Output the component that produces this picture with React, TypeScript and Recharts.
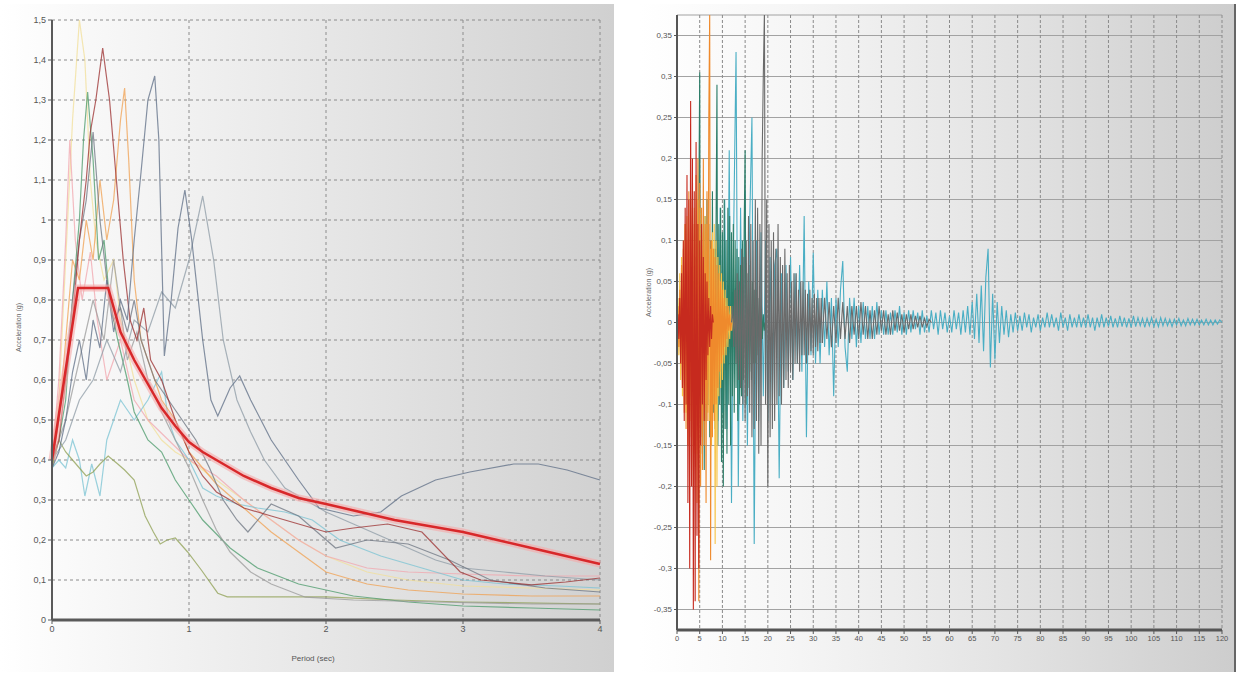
import React from "react";
import {
  LineChart,
  Line,
  XAxis,
  YAxis,
  CartesianGrid,
} from "recharts";

// ---------- left panel: response spectra, period (sec) vs acceleration (g) ----------
const PERIOD_TICKS = [0, 1, 2, 3, 4];
const SPECTRUM_TICKS = [0, 0.1, 0.2, 0.3, 0.4, 0.5, 0.6, 0.7, 0.8, 0.9, 1, 1.1, 1.2, 1.3, 1.4, 1.5];

const TARGET = [
  [0, 0.4], [0.19, 0.83], [0.41, 0.83], [0.5, 0.72], [0.6, 0.65], [0.7, 0.59], [0.8, 0.53],
  [0.9, 0.485], [1.0, 0.445], [1.1, 0.42], [1.2, 0.4], [1.4, 0.36], [1.6, 0.33], [1.8, 0.305],
  [2.0, 0.29], [2.25, 0.27], [2.5, 0.25], [2.75, 0.235], [3.0, 0.22], [3.25, 0.2], [3.5, 0.18],
  [3.75, 0.16], [4.0, 0.14],
];
const REC_SLATE = [
  [0, 0.38], [0.05, 0.42], [0.1, 0.5], [0.15, 0.62], [0.2, 0.7], [0.25, 0.6], [0.3, 0.75],
  [0.35, 0.68], [0.4, 0.85], [0.45, 0.72], [0.5, 0.8], [0.55, 0.75], [0.6, 0.95], [0.65, 1.12],
  [0.7, 1.3], [0.75, 1.36], [0.78, 1.2], [0.82, 0.66], [0.87, 0.8], [0.92, 0.98], [0.97, 1.075],
  [1.02, 0.95], [1.1, 0.7], [1.16, 0.55], [1.21, 0.51], [1.3, 0.58], [1.37, 0.61], [1.45, 0.55],
  [1.6, 0.45], [1.8, 0.35], [1.95, 0.28], [2.2, 0.26], [2.4, 0.27], [2.55, 0.31], [2.8, 0.35],
  [3.05, 0.37], [3.37, 0.39], [3.55, 0.39], [3.76, 0.375], [4.0, 0.35],
];
const REC_GREY = [
  [0, 0.4], [0.1, 0.45], [0.2, 0.55], [0.3, 0.6], [0.4, 0.7], [0.5, 0.62], [0.6, 0.75],
  [0.7, 0.72], [0.8, 0.82], [0.9, 0.78], [1.0, 0.9], [1.1, 1.06], [1.18, 0.9], [1.25, 0.7],
  [1.35, 0.55], [1.45, 0.47], [1.55, 0.4], [1.7, 0.33], [1.85, 0.3], [2.0, 0.27], [2.2, 0.24],
  [2.4, 0.21], [2.6, 0.18], [2.8, 0.15], [3.0, 0.13], [3.3, 0.12], [3.6, 0.11], [4.0, 0.1],
];
const REC_BROWN = [
  [0, 0.4], [0.05, 0.45], [0.1, 0.6], [0.15, 0.75], [0.2, 0.95], [0.25, 1.1], [0.28, 1.22],
  [0.32, 1.3], [0.37, 1.43], [0.42, 1.3], [0.47, 1.1], [0.52, 0.9], [0.57, 0.75], [0.62, 0.7],
  [0.67, 0.78], [0.72, 0.65], [0.8, 0.6], [0.9, 0.5], [1.0, 0.42], [1.1, 0.36], [1.2, 0.32],
  [1.4, 0.28], [1.6, 0.26], [1.8, 0.24], [2.0, 0.22], [2.2, 0.23], [2.45, 0.24], [2.7, 0.22],
  [2.98, 0.12], [3.13, 0.1], [3.5, 0.088], [3.75, 0.095], [4.0, 0.105],
];
const REC_ORANGE = [
  [0, 0.38], [0.05, 0.5], [0.1, 0.7], [0.15, 0.9], [0.2, 0.85], [0.25, 1.0], [0.3, 0.9],
  [0.35, 1.1], [0.4, 0.95], [0.45, 1.05], [0.5, 1.25], [0.53, 1.33], [0.56, 1.15], [0.6, 0.85],
  [0.65, 0.7], [0.7, 0.65], [0.8, 0.55], [0.9, 0.5], [1.0, 0.42], [1.1, 0.38], [1.2, 0.34],
  [1.4, 0.28], [1.6, 0.22], [1.8, 0.17], [2.0, 0.12], [2.3, 0.09], [2.6, 0.075], [3.0, 0.065],
  [3.5, 0.06], [4.0, 0.06],
];
const REC_CREAM = [
  [0, 0.4], [0.05, 0.55], [0.1, 0.9], [0.15, 1.25], [0.2, 1.5], [0.24, 1.4], [0.28, 1.1],
  [0.32, 0.95], [0.38, 0.85], [0.45, 0.9], [0.5, 0.75], [0.6, 0.6], [0.7, 0.5], [0.8, 0.45],
  [0.9, 0.42], [1.0, 0.4], [1.2, 0.35], [1.4, 0.3], [1.6, 0.25], [1.8, 0.2], [2.0, 0.16],
  [2.3, 0.12], [2.6, 0.1], [3.0, 0.085], [3.5, 0.08], [4.0, 0.075],
];
const REC_GREEN = [
  [0, 0.39], [0.05, 0.45], [0.1, 0.55], [0.15, 0.8], [0.2, 1.0], [0.23, 1.2], [0.26, 1.32],
  [0.3, 1.15], [0.34, 0.9], [0.38, 0.95], [0.42, 0.8], [0.48, 0.7], [0.55, 0.6], [0.6, 0.52],
  [0.7, 0.45], [0.8, 0.42], [0.9, 0.35], [1.0, 0.3], [1.1, 0.25], [1.3, 0.18], [1.5, 0.13],
  [1.8, 0.09], [2.2, 0.06], [2.6, 0.045], [3.0, 0.035], [3.5, 0.03], [4.0, 0.025],
];
const REC_PINK = [
  [0, 0.4], [0.05, 0.6], [0.1, 0.95], [0.13, 1.2], [0.17, 0.95], [0.22, 0.8], [0.28, 0.92],
  [0.33, 0.75], [0.4, 0.6], [0.5, 0.7], [0.6, 0.55], [0.7, 0.5], [0.85, 0.45], [1.0, 0.4],
  [1.2, 0.36], [1.4, 0.3], [1.6, 0.25], [1.8, 0.2], [2.0, 0.16], [2.3, 0.13], [2.6, 0.12],
  [3.0, 0.115], [3.5, 0.11], [4.0, 0.11],
];
const REC_SKY = [
  [0, 0.38], [0.05, 0.4], [0.1, 0.38], [0.15, 0.45], [0.2, 0.4], [0.24, 0.31], [0.29, 0.39],
  [0.35, 0.31], [0.4, 0.45], [0.5, 0.55], [0.6, 0.5], [0.7, 0.55], [0.8, 0.62], [0.85, 0.5],
  [0.9, 0.45], [1.0, 0.4], [1.1, 0.33], [1.2, 0.31], [1.35, 0.29], [1.5, 0.28], [1.7, 0.27],
  [1.9, 0.25], [2.1, 0.2], [2.4, 0.16], [2.7, 0.13], [3.0, 0.1], [3.3, 0.09], [3.7, 0.085],
  [4.0, 0.08],
];
const REC_OLIVE = [
  [0, 0.38], [0.05, 0.45], [0.1, 0.42], [0.15, 0.4], [0.2, 0.38], [0.25, 0.36], [0.3, 0.37],
  [0.35, 0.39], [0.41, 0.41], [0.48, 0.39], [0.53, 0.375], [0.6, 0.35], [0.68, 0.26],
  [0.74, 0.22], [0.79, 0.19], [0.84, 0.2], [0.9, 0.205], [0.99, 0.17], [1.09, 0.125],
  [1.21, 0.067], [1.28, 0.058], [2.0, 0.058], [2.5, 0.05], [3.0, 0.045], [4.0, 0.04],
];
const REC_ASH = [
  [0, 0.4], [0.1, 0.5], [0.2, 0.65], [0.3, 0.8], [0.38, 0.7], [0.45, 0.9], [0.5, 0.78],
  [0.55, 0.65], [0.62, 0.72], [0.7, 0.6], [0.8, 0.52], [0.9, 0.45], [1.0, 0.38], [1.1, 0.3],
  [1.2, 0.225], [1.3, 0.17], [1.45, 0.12], [1.6, 0.09], [1.85, 0.057], [2.2, 0.05],
  [2.8, 0.045], [3.5, 0.04], [4.0, 0.04],
];
const REC_DARK = [
  [0, 0.4], [0.05, 0.5], [0.1, 0.62], [0.15, 0.8], [0.2, 0.95], [0.25, 1.05], [0.3, 1.22],
  [0.35, 1.0], [0.4, 0.85], [0.45, 0.75], [0.5, 0.78], [0.55, 0.72], [0.6, 0.8], [0.65, 0.7],
  [0.75, 0.6], [0.85, 0.55], [0.95, 0.5], [1.05, 0.45], [1.15, 0.38], [1.25, 0.3],
  [1.35, 0.25], [1.43, 0.22], [1.6, 0.29], [1.8, 0.26], [2.07, 0.18], [2.3, 0.2], [2.6, 0.19],
  [2.9, 0.15], [3.2, 0.1], [3.6, 0.08], [4.0, 0.07],
];

const SPECTRA = [
  { key: "cream", color: "#f1df98", points: REC_CREAM },
  { key: "pink", color: "#f2a6ae", points: REC_PINK },
  { key: "sky", color: "#79c3d3", points: REC_SKY },
  { key: "olive", color: "#8d9f52", points: REC_OLIVE },
  { key: "orange", color: "#f0a050", points: REC_ORANGE },
  { key: "green", color: "#4a9a6a", points: REC_GREEN },
  { key: "ash", color: "#9a9a9a", points: REC_ASH },
  { key: "grey", color: "#8e9ba6", points: REC_GREY },
  { key: "dark", color: "#6c7480", points: REC_DARK },
  { key: "brown", color: "#9b2d2d", points: REC_BROWN },
  { key: "slate", color: "#5d6d86", points: REC_SLATE },
];

// ---------- right panel: accelerograms, time (s) vs acceleration (g) ----------
const TIME_TICKS = [0, 5, 10, 15, 20, 25, 30, 35, 40, 45, 50, 55, 60, 65, 70, 75, 80, 85, 90, 95, 100, 105, 110, 115, 120];
const ACC_TICKS = [-0.35, -0.3, -0.25, -0.2, -0.15, -0.1, -0.05, 0, 0.05, 0.1, 0.15, 0.2, 0.25, 0.3, 0.35];

const RED_ACC = [0, .01, -.02, .03, -.05, .06, -.08, .1, -.12, .14, -.1, .18, -.22, .15, -.3, .27, -.2, .2, -.35, .16, -.34, .22, -.26, .12, -.3, .1, -.15, .12, -.1, .08, -.12, .06, -.07, .05, -.04, .03, -.03, .02, -.02, .01, 0];
const ORANGE_ACC = [0, .02, -.03, .04, -.05, .07, -.08, .09, -.11, .12, -.13, .1, -.15, .16, -.12, .14, -.18, .15, -.2, .12, -.16, .18, -.22, .2, -.34, .17, -.2, .14, -.18, .2, -.15, .12, -.22, .16, -.12, .25, .38, -.29, .1, -.14, .09, -.12, .08, -.1, .07, -.08, .06, -.06, .05, -.05, .04, -.04, .03, -.03, .02, -.02, .02, -.01, .01, -.01, 0];
const YELLOW_ACC = [0, .03, -.04, .06, -.07, .08, -.09, .1, -.1, .12, -.11, .13, -.12, .1, -.14, .15, -.12, .13, -.15, .14, -.13, .12, -.16, .15, -.12, .14, -.13, .12, -.14, .11, -.12, .13, -.1, .12, -.11, .1, -.12, .09, -.15, .11, -.1, .12, -.27, .1, -.2, .08, -.09, .07, -.08, .06, -.07, .05, -.05, .04, -.04, .03, -.03, .02, -.02, .02, -.01, .01, -.01, 0];
const GREEN_ACC = [0, .03, -.04, .05, -.07, .08, -.1, .12, -.09, .14, .305, -.16, .1, -.14, .12, -.18, .13, -.12, .15, -.1, .12, -.14, .1, -.12, .16, -.11, .09, -.13, .12, .29, -.15, .12, -.1, .14, -.17, .11, -.2, .15, -.13, .1, -.16, .14, -.1, .13, -.15, .11, -.09, .12, -.11, .1, -.08, .09, -.12, .08, -.1, .07, -.09, .1, -.07, .12, .21, -.1, .06, -.08, .07, -.06, .05, -.07, .05, -.05, .04, -.05, .04, -.04, .03, -.03, .03, -.02, .02, -.02, .01, -.01, 0];
const BLUE_ACC = [0, .02, -.03, .05, -.06, .08, -.1, .09, -.12, .14, -.11, .15, -.13, .21, -.22, .12, .33, -.2, .14, -.12, .16, -.15, .12, .25, -.27, .1, -.12, .11, -.09, .1, -.12, .08, -.1, .07, .09, -.19, .06, -.08, .07, -.06, .08, -.07, .06, -.05, .07, -.06, .13, -.14, .05, -.04, .085, -.05, .04, -.05, .04, -.03, .05, -.04, .03, -.09, .03, -.03, .04, .075, -.03, -.06, .03, -.02, .03, -.03, .02, -.025, .025, -.02, .02, -.02, .02, -.02, .025, -.015, .015, -.015, .015, -.015, .012, -.015, .015, -.012, .02, -.015, .012, -.015, .015, -.012, .015, -.008, .012, -.015, .015, -.012, .008, -.012, .015, -.008, .012, -.015, .015, -.008, .012, -.012, .008];
const BLUE_TAIL_ACC = [.008, -.012, .015, -.008, .012, -.015, .015, -.012, .02, -.015, .025, -.02, .035, -.025, .045, -.035, .055, .09, -.055, .035, -.045, .025, -.025, .02, -.015, .015, -.018, .01, -.012, .012, -.01, .008, -.01, .012, -.006, .01, -.012, .006, -.006, .01, -.01, .006, -.006, .012, -.006, .01, -.006, .006, -.01, .012, -.006, .006, -.01, .01, -.006, .006, -.006, .01, -.006, .006, -.006, .01, -.006, .006, -.01, .006, -.006, .01, -.006, .006, -.005, .008, -.006, .005, -.006, .008, -.005, .006, -.006, .005, -.006, .008, -.005, .006, -.004, .005, -.006, .005, -.004, .006, -.005, .004, -.005, .006, -.004, .005, -.004, .004, -.005, .004, -.003, .005, -.004, .003, -.004, .005, -.003, .004, -.003, .004, -.003, .003, -.003, .004, -.003, .003, -.003, .003, -.002, .003, 0];
const GREY_ACC = [0, .02, -.03, .04, -.05, .06, -.07, .05, -.08, .09, -.1, .08, -.12, .1, -.09, .13, -.11, .12, -.14, .1, -.13, .15, -.12, .14, -.16, .12, -.15, .2, .3, .38, -.1, .15, -.2, .12, -.14, .1, -.13, .11, -.12, .09, -.1, .12, -.09, .08, -.1, .07, -.08, .09, -.07, .06, -.08, .07, -.06, .05, -.07, .06, -.05, .06, -.05, .04, -.06, .05, -.04, .05, -.04, .04, -.05, .035, -.04, .04, -.035, .03, -.04, .035, -.03, .03, -.035, .03, -.025, .03, -.025];
const GREY_TAIL_ACC = [-.025, .03, -.02, .025, -.03, .02, -.025, .03, -.02, .025, -.02, .02, -.025, .02, -.015, .02, -.02, .025, -.015, .02, -.02, .015, -.02, .015, -.015, .02, -.01, .015, -.015, .01, -.015, .015, -.01, .012, -.01, .01, -.012, .01, -.008, .01, -.008, .008, -.006, .008, -.006, .005, -.005, .004, 0];

const RECORDS = [
  { key: "blue", color: "#4aaec4", start: 5, step: 0.5, values: BLUE_ACC },
  { key: "blueTail", color: "#4aaec4", start: 60, step: 0.5, values: BLUE_TAIL_ACC },
  { key: "green", color: "#2c7d68", start: 3, step: 0.2, values: GREEN_ACC },
  { key: "yellow", color: "#f7c44a", start: 0, step: 0.2, values: YELLOW_ACC },
  { key: "orange", color: "#ef8a2c", start: 0, step: 0.2, values: ORANGE_ACC },
  { key: "red", color: "#c62a1e", start: 0, step: 0.2, values: RED_ACC },
  { key: "grey", color: "#6a6a6a", start: 12, step: 0.25, values: GREY_ACC },
  { key: "greyTail", color: "#6a6a6a", start: 32, step: 0.5, values: GREY_TAIL_ACC },
];

type Row = { x: number; [k: string]: number };

function buildTable(series: { key: string; points: number[][] }[]): Row[] {
  const rows = new Map<number, Row>();
  for (const s of series) {
    for (const [x, y] of s.points) {
      const k = Math.round(x * 1000) / 1000;
      if (!rows.has(k)) rows.set(k, { x: k });
      rows.get(k)![s.key] = y;
    }
  }
  return [...rows.values()].sort((a, b) => a.x - b.x);
}

const spectraTable = buildTable([...SPECTRA, { key: "target", points: TARGET }]);
const recordTable = buildTable(
  RECORDS.map((r) => ({ key: r.key, points: r.values.map((v, i) => [r.start + i * r.step, v]) }))
);

const comma = (d: number) => (v: number) => String(Number(v.toFixed(d))).replace(".", ",");
const tickStyle = { fontSize: 9, fill: "#555", fontFamily: "'Liberation Sans', Arial, sans-serif" };

export default function App() {
  return (
    <div
      style={{
        position: "absolute",
        left: 0,
        top: 0,
        width: 1237,
        height: 677,
        background: "#fff",
        overflow: "hidden",
        fontFamily: "'Liberation Sans', Arial, sans-serif",
      }}
    >
      <div
        style={{
          position: "absolute",
          left: 0,
          top: 4,
          width: 614,
          height: 668,
          background: "linear-gradient(to right, #ffffff 0%, #f8f8f8 15%, #e8e8e8 50%, #d0d0d0 100%)",
        }}
      />
      <div
        style={{
          position: "absolute",
          left: 640,
          top: 4,
          width: 594,
          height: 668,
          background: "linear-gradient(to right, #ffffff 0%, #f6f6f6 25%, #e4e4e4 60%, #cdcdcd 100%)",
          borderRight: "2px solid #666",
        }}
      />

      <div style={{ position: "absolute", left: 0, top: 0 }}>
        <LineChart width={620} height={677} data={spectraTable} margin={{ top: 20, right: 20, bottom: 27, left: 0 }}>
          <CartesianGrid stroke="#8c8c8c" strokeDasharray="3 3" />
          <XAxis
            type="number"
            dataKey="x"
            domain={[0, 4]}
            ticks={PERIOD_TICKS}
            height={30}
            tick={tickStyle}
            tickSize={4}
            axisLine={{ stroke: "#5a5a5a", strokeWidth: 3 }}
            tickLine={{ stroke: "#5a5a5a" }}
          />
          <YAxis
            type="number"
            domain={[0, 1.5]}
            ticks={SPECTRUM_TICKS}
            allowDataOverflow
            width={52}
            tick={tickStyle}
            tickSize={4}
            tickFormatter={comma(1)}
            axisLine={{ stroke: "#5a5a5a", strokeWidth: 2 }}
            tickLine={{ stroke: "#5a5a5a" }}
          />
          {SPECTRA.map((s) => (
            <Line
              key={s.key}
              dataKey={s.key}
              stroke={s.color}
              strokeWidth={1.2}
              strokeOpacity={0.75}
              dot={false}
              activeDot={false}
              connectNulls
              type="linear"
              isAnimationActive={false}
            />
          ))}
          <Line dataKey="target" stroke="#f5a8a8" strokeWidth={7} strokeOpacity={0.6} dot={false} activeDot={false} connectNulls type="linear" isAnimationActive={false} />
          <Line dataKey="target" stroke="#d8282a" strokeWidth={2.5} dot={false} activeDot={false} connectNulls type="linear" isAnimationActive={false} />
        </LineChart>
      </div>

      <div style={{ position: "absolute", left: 630, top: 0 }}>
        <LineChart width={607} height={677} data={recordTable} margin={{ top: 15, right: 15, bottom: 12, left: 0 }}>
          <CartesianGrid stroke="#a2a2a2" horizontal vertical={false} />
          <CartesianGrid stroke="#8a8a8a" strokeDasharray="3 2" horizontal={false} vertical />
          <XAxis
            type="number"
            dataKey="x"
            domain={[0, 120]}
            ticks={TIME_TICKS}
            height={35}
            tick={{ ...tickStyle, fontSize: 7.5 }}
            tickSize={4}
            interval={0}
            axisLine={{ stroke: "#555", strokeWidth: 3 }}
            tickLine={{ stroke: "#555" }}
          />
          <YAxis
            type="number"
            domain={[-0.375, 0.375]}
            ticks={ACC_TICKS}
            allowDataOverflow
            width={47}
            tick={{ ...tickStyle, fontSize: 8 }}
            tickSize={3}
            tickFormatter={comma(2)}
            axisLine={{ stroke: "#555", strokeWidth: 2 }}
            tickLine={{ stroke: "#555" }}
          />
          {RECORDS.map((r) => (
            <Line
              key={r.key}
              dataKey={r.key}
              stroke={r.color}
              strokeWidth={1.1}
              dot={false}
              activeDot={false}
              connectNulls
              type="linear"
              isAnimationActive={false}
            />
          ))}
        </LineChart>
      </div>

      <div
        style={{
          position: "absolute",
          left: 18 - 60,
          top: 330 - 6,
          width: 120,
          textAlign: "center",
          fontSize: 7,
          color: "#666",
          transform: "rotate(-90deg)",
        }}
      >
        Acceleration (g)
      </div>
      <div style={{ position: "absolute", left: 263, top: 654, width: 100, textAlign: "center", fontSize: 8, color: "#555" }}>
        Period (sec)
      </div>
      <div
        style={{
          position: "absolute",
          left: 648 - 60,
          top: 295 - 6,
          width: 120,
          textAlign: "center",
          fontSize: 7,
          color: "#666",
          transform: "rotate(-90deg)",
        }}
      >
        Acceleration (g)
      </div>
    </div>
  );
}
